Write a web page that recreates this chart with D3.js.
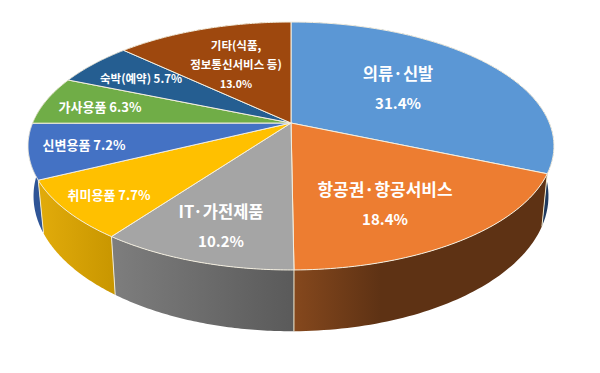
<!DOCTYPE html>
<html>
<head>
<meta charset="utf-8">
<script src="https://cdn.jsdelivr.net/npm/d3@7"></script>
<style>
  html, body { margin: 0; background: #fff; }
  text { font-family: "Noto Sans CJK KR", "Noto Sans", sans-serif; fill: #fff; text-anchor: middle; }
</style>
</head>
<body>
<script>
const categories = ['의류·신발', '항공권·항공서비스', 'IT·가전제품', '취미용품', '신변용품', '가사용품', '숙박(예약)', '기타'];
const shares = [31.4, 18.4, 10.2, 7.7, 7.2, 6.3, 5.7, 13.0];
const topColors = ['#5b97d5', '#ed7d31', '#a5a5a5', '#ffc000', '#4472c4', '#70ad47', '#255e91', '#9e480e'];
const wallColors = [['#1f3a5f', '#1f3a5f'], ['#85481d', '#5e3214', '#5e3214'], ['#7d7d7d', '#5a5a5a'], ['#e0aa0a', '#c89600'], ['#2f5597', '#2f5597'], ['#4e7a32', '#4e7a32'], ['#1a4265', '#1a4265'], ['#6e320a', '#6e320a']];

// label lines per slice: text and size, centre x, first line y, line gap
const labels = [
  { lines: [['의류·신발', 16.5], ['31.4%', 15]], x: 398, y: 80, gap: 29 },
  { lines: [['항공권·항공서비스', 17], ['18.4%', 15]], x: 385, y: 196, gap: 29 },
  { lines: [['IT·가전제품', 16.5], ['10.2%', 15]], x: 221, y: 218, gap: 29 },
  { lines: [['취미용품 7.7%', 13]], x: 109, y: 200, gap: 0 },
  { lines: [['신변용품 7.2%', 13]], x: 84, y: 150, gap: 0 },
  { lines: [['가사용품 6.3%', 13]], x: 100, y: 112, gap: 0 },
  { lines: [['숙박(예약) 5.7%', 11.5]], x: 141, y: 83, gap: 0 },
  { lines: [['기타(식품,', 11.5], ['정보통신서비스 등)', 11.5], ['13.0%', 10.5]], x: 236, y: 50, gap: 19 }
];

const width = 600;
const height = 373;

// Perspective disc: the pie hub sits above the middle of the ellipse
const persp = 0.1855;
const upper = { x: d3.scaleLinear().domain([-1, 1]).range([291 - 258.4, 291 + 258.4]), y: d3.scaleLinear().domain([-1, 1]).range([123 + 119.7, 123 - 119.7]) };
const lower = { x: d3.scaleLinear().domain([-1, 1]).range([291 - 253, 291 + 253]), y: d3.scaleLinear().domain([-1, 1]).range([171 + 130.5, 171 - 130.5]) };

const project = (disc, a) => {
  const u = Math.sin(a), v = Math.cos(a), w = 1 + persp * v;
  return [disc.x(u / w), disc.y(v / w)];
};
const arcPoints = (disc, a0, a1) => d3.range(0, 61).map(i => project(disc, a0 + (a1 - a0) * i / 60));

const svg = d3.select('body').append('svg').attr('width', width).attr('height', height).style('display', 'block');
const defs = svg.append('defs');
const line = d3.line();

const slices = d3.pie().sort(null).value(d => d)(shares);

// walls: back to front, only what shows below/around the top face
const wallOrder = d3.range(slices.length).sort((a, b) => {
  const depth = s => -Math.cos((slices[s].startAngle + slices[s].endAngle) / 2);
  return depth(a) - depth(b);
});

wallOrder.forEach(i => {
  const s = slices[i];
  const x0 = project(lower, s.startAngle)[0], x1 = project(lower, s.endAngle)[0];
  const grad = defs.append('linearGradient').attr('id', 'wall' + i)
    .attr('gradientUnits', 'userSpaceOnUse')
    .attr('x1', Math.min(x0, x1)).attr('x2', Math.max(x0, x1))
    .attr('y1', 0).attr('y2', 0);
  wallColors[i].forEach((c, k, all) => {
    // three stop walls turn dark early, the rest fade evenly
    const offset = all.length === 3 ? [0, 0.35, 1][k] : k / (all.length - 1);
    grad.append('stop').attr('offset', offset).attr('stop-color', c);
  });
  const pts = arcPoints(upper, s.startAngle, s.endAngle).concat(arcPoints(lower, s.endAngle, s.startAngle));
  svg.append('path').attr('d', line(pts) + 'Z').attr('fill', `url(#wall${i})`);
});

// seams on the front walls
slices.filter(s => s.endAngle > Math.PI * 0.62 && s.endAngle < Math.PI * 1.4).forEach(s => {
  svg.append('path').attr('d', line([project(upper, s.endAngle), project(lower, s.endAngle)]))
    .attr('stroke', '#f3ecd2').attr('stroke-width', 1).attr('fill', 'none');
});

// top face
const hub = [upper.x(0), upper.y(0)];
slices.forEach((s, i) => {
  const pts = [hub].concat(arcPoints(upper, s.startAngle, s.endAngle));
  svg.append('path').attr('d', line(pts) + 'Z')
    .attr('fill', topColors[i]).attr('stroke', '#f4efe0').attr('stroke-width', 1).attr('stroke-linejoin', 'round');
});

labels.forEach(l => {
  l.lines.forEach(([t, size], j) => {
    svg.append('text').attr('x', l.x).attr('y', l.y + j * l.gap)
      .attr('font-size', size).attr('font-weight', 700).text(t);
  });
});
</script>
</body>
</html>
